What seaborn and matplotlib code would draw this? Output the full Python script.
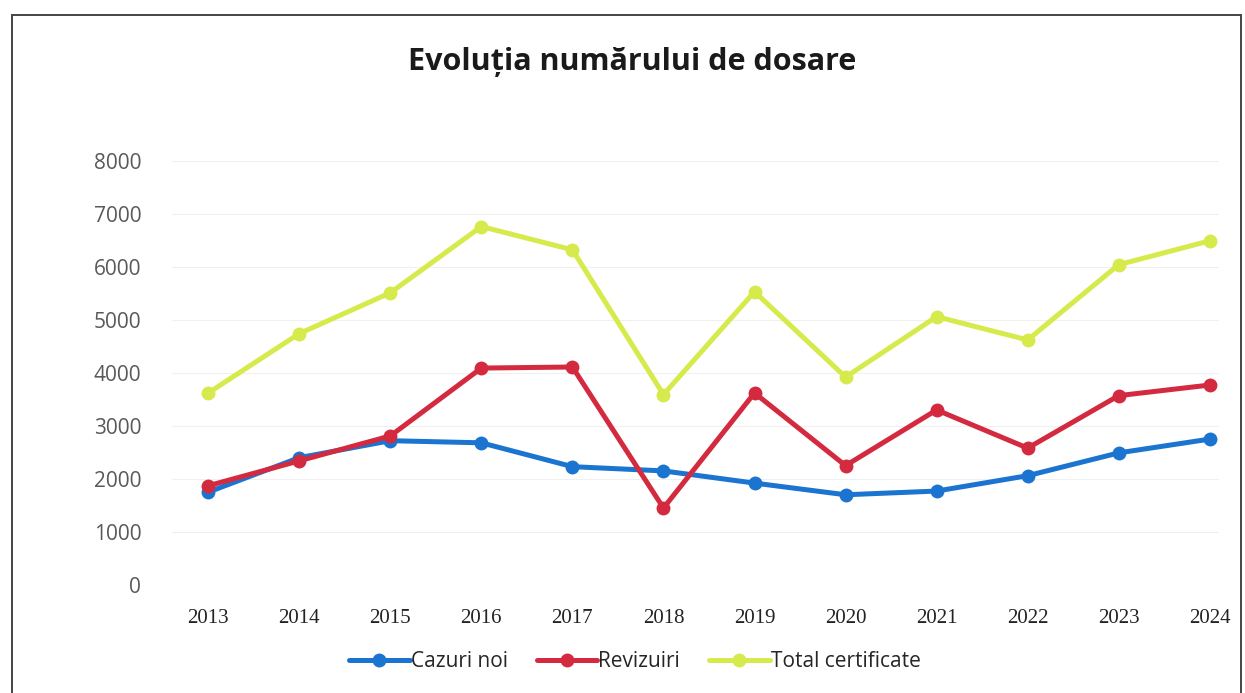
import pandas as pd
import matplotlib.pyplot as plt
import seaborn as sns
from matplotlib.patches import Rectangle

# Valori
ani = [2013, 2014, 2015, 2016, 2017, 2018, 2019, 2020, 2021, 2022, 2023, 2024]
cazuri_noi = [1750, 2400, 2720, 2680, 2230, 2150, 1920, 1700, 1770, 2060, 2490, 2750]
revizuiri = [1870, 2340, 2810, 4090, 4110, 1450, 3620, 2250, 3300, 2580, 3570, 3770]
total_certificate = [3620, 4740, 5510, 6760, 6320, 3590, 5530, 3920, 5060, 4620, 6040, 6490]

serii = ["Cazuri noi", "Revizuiri", "Total certificate"]
culori = ["#1b74cf", "#d42a40", "#d6ea4c"]

df = pd.DataFrame({"An": ani, serii[0]: cazuri_noi, serii[1]: revizuiri, serii[2]: total_certificate})
df_long = df.melt(id_vars="An", var_name="Serie", value_name="Dosare")

sns.set_style("white")
plt.rcParams['font.family'] = ['Open Sans', 'DejaVu Sans']

fig = plt.figure(figsize=(12.45, 6.93), dpi=100)
ax = fig.add_axes([0.138, 0.156, 0.841, 0.612])

sns.lineplot(data=df_long, x="An", y="Dosare", hue="Serie", hue_order=serii,
             palette=culori, marker="o", markersize=10, linewidth=3.6,
             markeredgewidth=0, ax=ax)

ax.set_ylim(0, 8000)
ax.set_xlim(2012.6, 2024.1)
ax.set_yticks(range(0, 8001, 1000))
ax.set_xticks(ani)
ax.set_xticklabels([str(a) for a in ani], family='Liberation Serif', fontsize=15, color='#222222')
ax.tick_params(axis='x', length=0, pad=17)
ax.tick_params(axis='y', length=0, pad=22, labelsize=15, labelcolor='#595959')
ax.yaxis.grid(True, color='#f0f0f0', linewidth=0.8)
ax.set_xlabel("")
ax.set_ylabel("")
sns.despine(ax=ax, left=True, bottom=True)

ax.legend(loc='center', bbox_to_anchor=(0.51, 0.045), bbox_transform=fig.transFigure,
          ncol=3, frameon=False, fontsize=15, handlelength=2.9, handletextpad=0.05,
          columnspacing=1.4)

fig.text(0.508, 0.91, "Evoluția numărului de dosare", ha='center', va='center',
         fontsize=22, fontweight='bold', color='#1a1a1a')

# chenarul documentului
fig.patches.append(Rectangle((0.0096, -0.05), 0.987, 1.028, transform=fig.transFigure,
                             fill=False, edgecolor='#444444', linewidth=1.4))

fig.savefig("out.png", dpi=100)
